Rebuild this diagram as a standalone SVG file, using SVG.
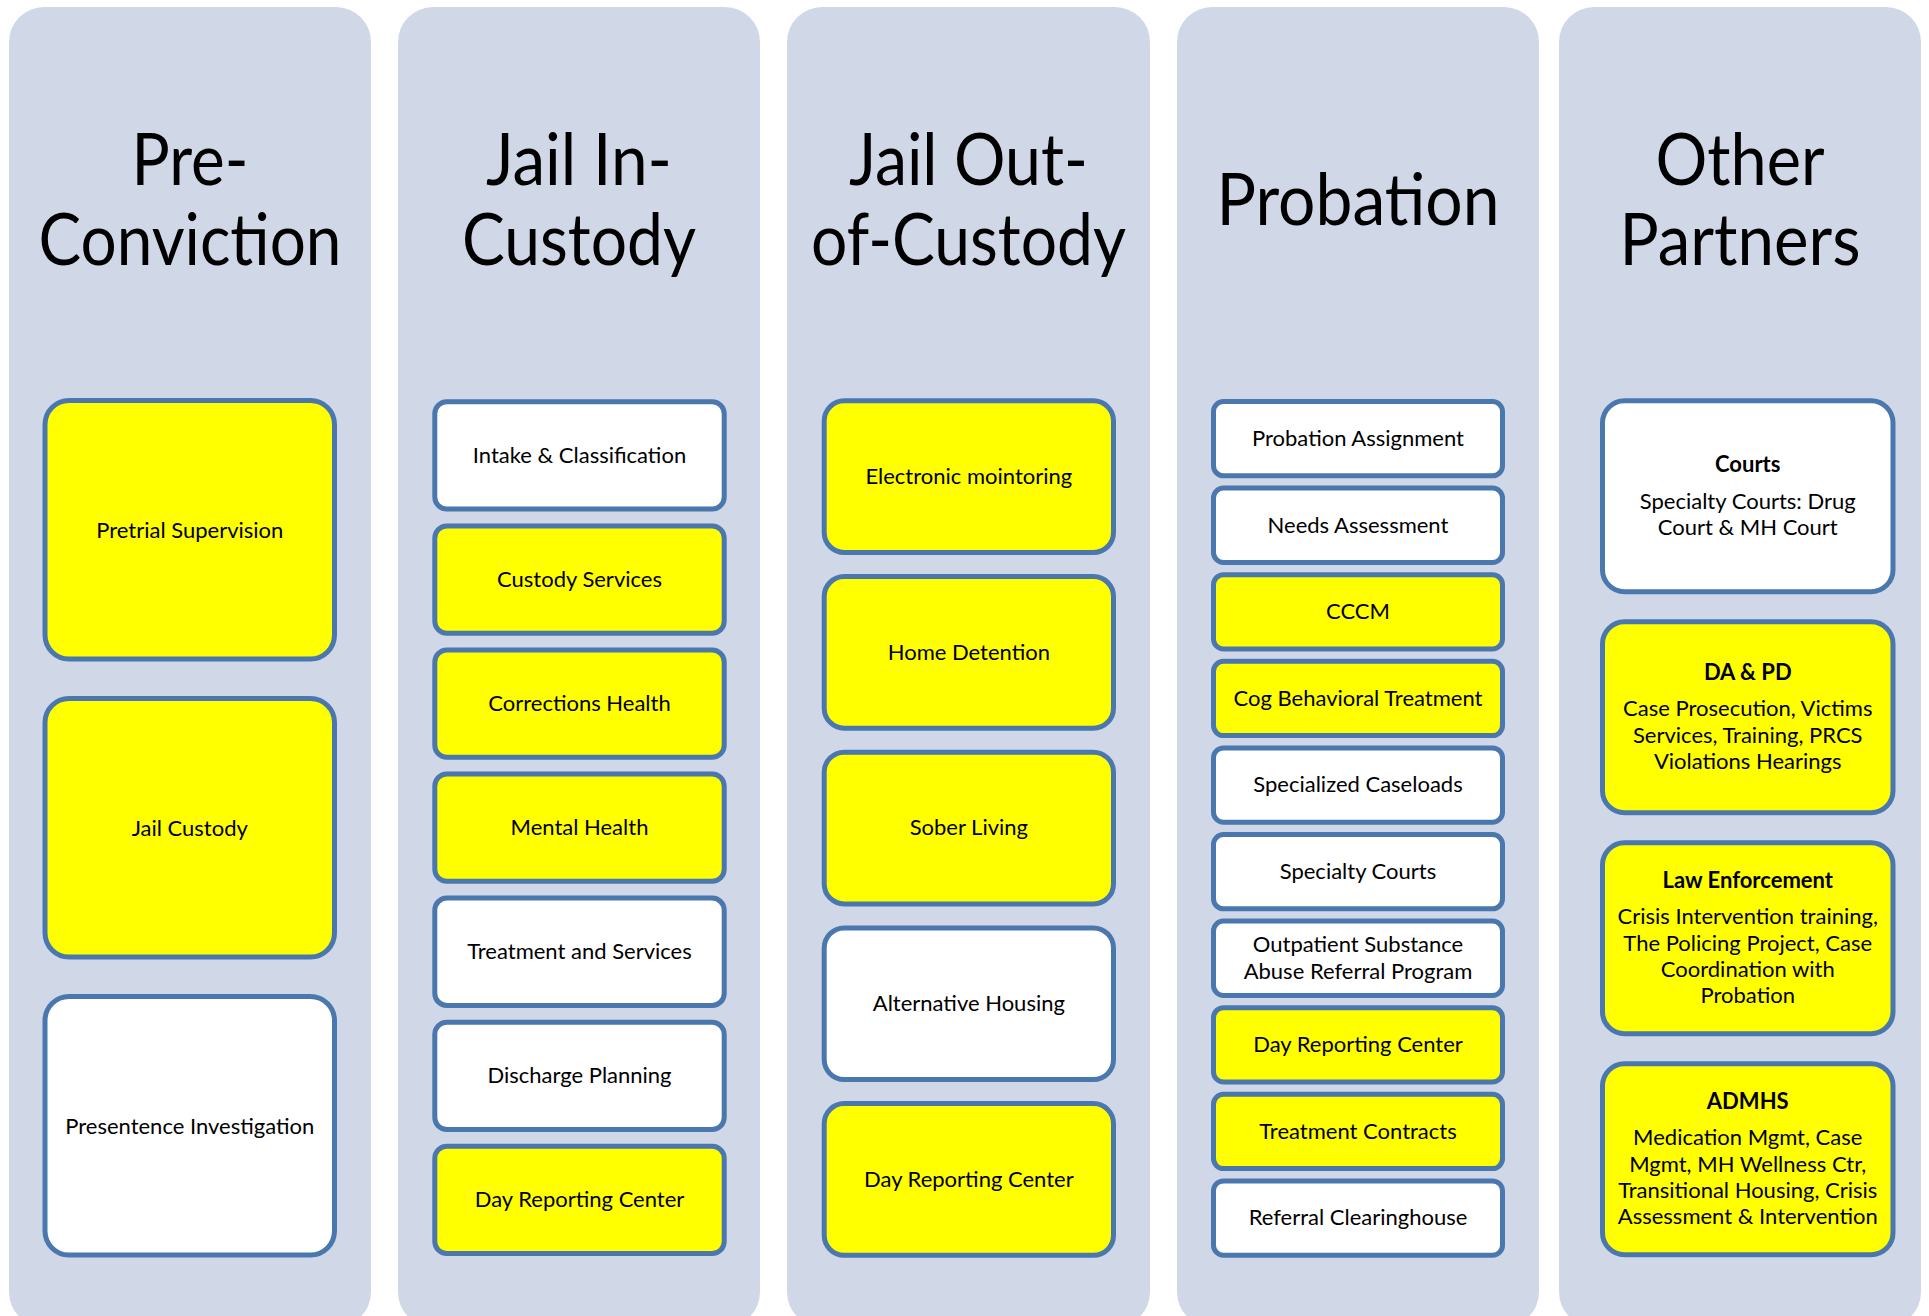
<svg xmlns="http://www.w3.org/2000/svg" width="1929" height="1316" viewBox="0 0 1929 1316">
<style>
.col{fill:#D0D8E8}
.box{stroke:#4A77AE;stroke-width:5}
.y{fill:#FFFF00}
.w{fill:#FFFFFF}
text{font-family:Lato,"Open Sans","Liberation Sans",sans-serif;fill:#000;text-anchor:middle}
.h{font-size:72px}
.t{font-size:22px}
.b{font-weight:bold}
</style>
<rect width="1929" height="1316" fill="#FFFFFF"/>
<g id="columns">
<rect class="col" x="9" y="7" width="362" height="1320" rx="35"/>
<rect class="col" x="398" y="7" width="362" height="1320" rx="35"/>
<rect class="col" x="787" y="7" width="363" height="1320" rx="35"/>
<rect class="col" x="1177" y="7" width="362" height="1320" rx="35"/>
<rect class="col" x="1559" y="7" width="362" height="1320" rx="35"/>
</g>
<g id="headings">
<text class="h" x="190" y="185" textLength="117" lengthAdjust="spacingAndGlyphs">Pre-</text>
<text class="h" x="190" y="265" textLength="303" lengthAdjust="spacingAndGlyphs">Conviction</text>
<text class="h" x="579" y="185" textLength="186" lengthAdjust="spacingAndGlyphs">Jail In-</text>
<text class="h" x="579" y="265" textLength="234" lengthAdjust="spacingAndGlyphs">Custody</text>
<text class="h" x="968.5" y="185" textLength="239" lengthAdjust="spacingAndGlyphs">Jail Out-</text>
<text class="h" x="968.5" y="265" textLength="315" lengthAdjust="spacingAndGlyphs">of-Custody</text>
<text class="h" x="1358" y="225" textLength="283" lengthAdjust="spacingAndGlyphs">Probation</text>
<text class="h" x="1740" y="185" textLength="169" lengthAdjust="spacingAndGlyphs">Other</text>
<text class="h" x="1740" y="265" textLength="241" lengthAdjust="spacingAndGlyphs">Partners</text>
</g>
<g id="connectors"></g>
<g id="n-pretrial"><rect class="box y" x="45" y="400.5" width="289.5" height="258.5" rx="24"/><text class="t" x="189.75" y="537.5">Pretrial Supervision</text></g>
<g id="n-jailcustody"><rect class="box y" x="45" y="698.5" width="289.5" height="258.5" rx="24"/><text class="t" x="189.75" y="835.5">Jail Custody</text></g>
<g id="n-presentence"><rect class="box w" x="45" y="996.5" width="289.5" height="258.5" rx="24"/><text class="t" x="189.75" y="1133.5">Presentence Investigation</text></g>

<g id="n-intake"><rect class="box w" x="434.8" y="401.8" width="289.4" height="107.3" rx="12"/><text class="t" x="579.5" y="462.5">Intake &amp; Classification</text></g>
<g id="n-custodyservices"><rect class="box y" x="434.8" y="525.9" width="289.4" height="107.3" rx="12"/><text class="t" x="579.5" y="586.6">Custody Services</text></g>
<g id="n-correctionshealth"><rect class="box y" x="434.8" y="649.9" width="289.4" height="107.3" rx="12"/><text class="t" x="579.5" y="710.6">Corrections Health</text></g>
<g id="n-mentalhealth"><rect class="box y" x="434.8" y="774" width="289.4" height="107.3" rx="12"/><text class="t" x="579.5" y="834.7">Mental Health</text></g>
<g id="n-treatment"><rect class="box w" x="434.8" y="898.1" width="289.4" height="107.3" rx="12"/><text class="t" x="579.5" y="958.8">Treatment and Services</text></g>
<g id="n-discharge"><rect class="box w" x="434.8" y="1022.2" width="289.4" height="107.3" rx="12"/><text class="t" x="579.5" y="1082.9">Discharge Planning</text></g>
<g id="n-drc-jail"><rect class="box y" x="434.8" y="1146.2" width="289.4" height="107.3" rx="12"/><text class="t" x="579.5" y="1206.9">Day Reporting Center</text></g>

<g id="n-electronic"><rect class="box y" x="824.2" y="400.8" width="289.3" height="151.7" rx="20"/><text class="t" x="968.85" y="483.8">Electronic mointoring</text></g>
<g id="n-homedetention"><rect class="box y" x="824.2" y="576.5" width="289.3" height="151.7" rx="20"/><text class="t" x="968.85" y="659.5">Home Detention</text></g>
<g id="n-soberliving"><rect class="box y" x="824.2" y="752.2" width="289.3" height="151.7" rx="20"/><text class="t" x="968.85" y="835.2">Sober Living</text></g>
<g id="n-althousing"><rect class="box w" x="824.2" y="927.9" width="289.3" height="151.7" rx="20"/><text class="t" x="968.85" y="1010.9">Alternative Housing</text></g>
<g id="n-drc-out"><rect class="box y" x="824.2" y="1103.6" width="289.3" height="151.7" rx="20"/><text class="t" x="968.85" y="1186.6">Day Reporting Center</text></g>

<g id="n-probassign"><rect class="box w" x="1213.5" y="401.5" width="289" height="74.3" rx="10"/><text class="t" x="1358" y="446">Probation Assignment</text></g>
<g id="n-needs"><rect class="box w" x="1213.5" y="488.1" width="289" height="74.3" rx="10"/><text class="t" x="1358" y="532.6">Needs Assessment</text></g>
<g id="n-cccm"><rect class="box y" x="1213.5" y="574.7" width="289" height="74.3" rx="10"/><text class="t" x="1358" y="619.2">CCCM</text></g>
<g id="n-cogbeh"><rect class="box y" x="1213.5" y="661.3" width="289" height="74.3" rx="10"/><text class="t" x="1358" y="705.8">Cog Behavioral Treatment</text></g>
<g id="n-specialized"><rect class="box w" x="1213.5" y="747.9" width="289" height="74.3" rx="10"/><text class="t" x="1358" y="792.4">Specialized Caseloads</text></g>
<g id="n-specialtycourts"><rect class="box w" x="1213.5" y="834.5" width="289" height="74.3" rx="10"/><text class="t" x="1358" y="879">Specialty Courts</text></g>
<g id="n-outpatient"><rect class="box w" x="1213.5" y="921.1" width="289" height="74.3" rx="10"/><text class="t" x="1358" y="952">Outpatient Substance</text><text class="t" x="1358" y="978.5">Abuse Referral Program</text></g>
<g id="n-drc-prob"><rect class="box y" x="1213.5" y="1007.7" width="289" height="74.3" rx="10"/><text class="t" x="1358" y="1052.2">Day Reporting Center</text></g>
<g id="n-contracts"><rect class="box y" x="1213.5" y="1094.3" width="289" height="74.3" rx="10"/><text class="t" x="1358" y="1138.8">Treatment Contracts</text></g>
<g id="n-referral"><rect class="box w" x="1213.5" y="1180.9" width="289" height="74.3" rx="10"/><text class="t" x="1358" y="1225.4">Referral Clearinghouse</text></g>

<g id="n-courts"><rect class="box w" x="1602.5" y="400.8" width="290.5" height="191" rx="22"/>
<text class="t b" x="1747.75" y="472">Courts</text>
<text class="t" x="1747.75" y="508.5">Specialty Courts: Drug</text>
<text class="t" x="1747.75" y="534.9">Court &amp; MH Court</text></g>
<g id="n-dapd"><rect class="box y" x="1602.5" y="621.8" width="290.5" height="191" rx="22"/>
<text class="t b" x="1747.75" y="679.8">DA &amp; PD</text>
<text class="t" x="1747.75" y="716.4">Case Prosecution, Victims</text>
<text class="t" x="1747.75" y="742.8">Services, Training, PRCS</text>
<text class="t" x="1747.75" y="769.2">Violations Hearings</text></g>
<g id="n-law"><rect class="box y" x="1602.5" y="842.8" width="290.5" height="191" rx="22"/>
<text class="t b" x="1747.75" y="887.6">Law Enforcement</text>
<text class="t" x="1747.75" y="924.2">Crisis Intervention training,</text>
<text class="t" x="1747.75" y="950.6">The Policing Project, Case</text>
<text class="t" x="1747.75" y="977">Coordination with</text>
<text class="t" x="1747.75" y="1003.4">Probation</text></g>
<g id="n-admhs"><rect class="box y" x="1602.5" y="1063.8" width="290.5" height="191" rx="22"/>
<text class="t b" x="1747.75" y="1108.6">ADMHS</text>
<text class="t" x="1747.75" y="1145.2">Medication Mgmt, Case</text>
<text class="t" x="1747.75" y="1171.6">Mgmt, MH Wellness Ctr,</text>
<text class="t" x="1747.75" y="1198">Transitional Housing, Crisis</text>
<text class="t" x="1747.75" y="1224.4">Assessment &amp; Intervention</text></g>
</svg>
